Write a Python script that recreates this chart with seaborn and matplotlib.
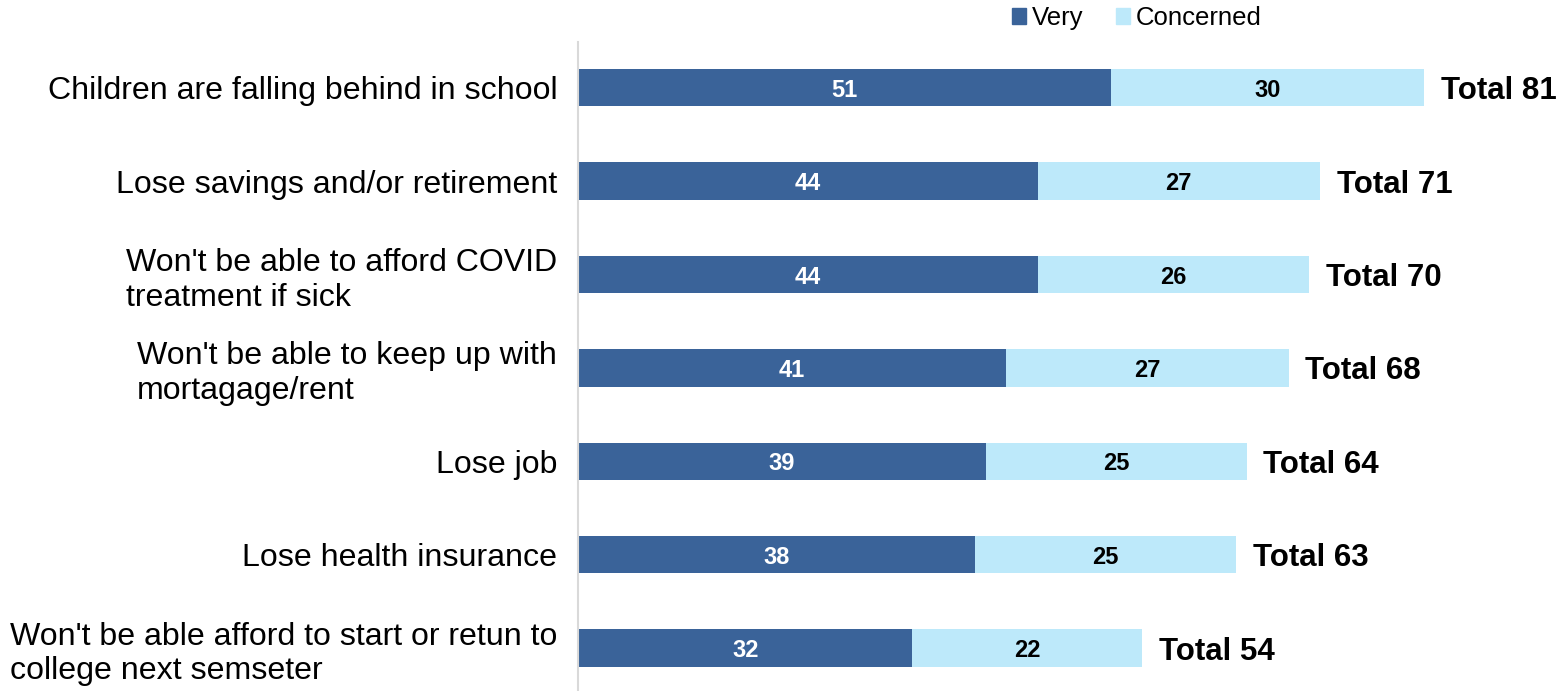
import numpy as np
import pandas as pd
import seaborn as sns
import matplotlib.pyplot as plt
from matplotlib.patches import Patch

categories = [
    "Children are falling behind in school",
    "Lose savings and/or retirement",
    "Won't be able to afford COVID\ntreatment if sick",
    "Won't be able to keep up with\nmortagage/rent",
    "Lose job",
    "Lose health insurance",
    "Won't be able afford to start or retun to\ncollege next semseter",
]
very = [51, 44, 44, 41, 39, 38, 32]
concerned = [30, 27, 26, 27, 25, 25, 22]
totals = [81, 71, 70, 68, 64, 63, 54]

DARK = "#3A6399"
LIGHT = "#BDE9FA"

df = pd.DataFrame({"category": categories, "very": very,
                   "concerned": concerned, "total": totals})

sns.set_style("white")
plt.rcParams['font.family'] = ['Liberation Sans', 'DejaVu Sans']

fig = plt.figure(figsize=(15.67, 6.91), dpi=100)
ax = fig.add_axes([578 / 1567, 0, 0.6268, (691 - 42) / 691])

# stacked: draw the total (light) first, then the "very" part on top
sns.barplot(data=df, x="total", y="category", color=LIGHT, width=0.4,
            saturation=1, linewidth=0, ax=ax, orient="h")
sns.barplot(data=df, x="very", y="category", color=DARK, width=0.4,
            saturation=1, linewidth=0, ax=ax, orient="h")

# segment labels
for i, (v, c, t) in enumerate(zip(very, concerned, totals)):
    ax.text(v / 2, i, str(v), ha="center", va="center_baseline", color="white",
            fontsize=17, fontweight="bold")
    ax.text(v + c / 2, i, str(c), ha="center", va="center_baseline", color="black",
            fontsize=17, fontweight="bold")
    ax.text(t + 1.6, i, f"Total {t}", ha="left", va="center_baseline", color="black",
            fontsize=22.5, fontweight="bold")

ax.set_xlim(0, 94)
ax.set_ylim(6.46, -0.49)
ax.set_xlabel("")
ax.set_ylabel("")
ax.set_xticks([])
ax.tick_params(axis="y", length=0, pad=15, labelsize=23.1, labelcolor="black")
for lbl in ax.get_yticklabels():
    lbl.set_multialignment("left")
    lbl.set_linespacing(1.2)

for side in ["top", "right", "bottom"]:
    ax.spines[side].set_visible(False)
ax.spines["left"].set_color("#D9D9D9")
ax.spines["left"].set_linewidth(1.5)

handles = [Patch(color=DARK, label="Very"), Patch(color=LIGHT, label="Concerned")]
fig.legend(handles=handles, loc="upper left", bbox_to_anchor=(989 / 1567, 1.025),
           ncol=2, frameon=False, fontsize=18.5, handlelength=0.55,
           handleheight=0.55, handletextpad=0.2, columnspacing=1.3,
           labelcolor="black")

fig.savefig("out.png", dpi=100)
